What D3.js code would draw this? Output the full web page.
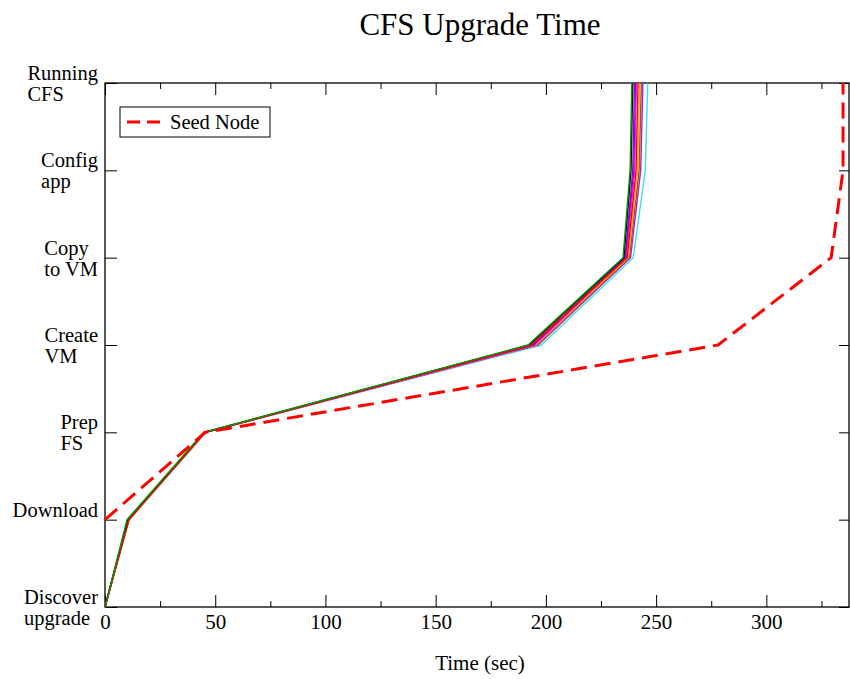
<!DOCTYPE html>
<html>
<head>
<meta charset="utf-8">
<script src="https://cdn.jsdelivr.net/npm/d3@7"></script>
<style>
  html, body { margin: 0; padding: 0; background: #fff; }
  svg { display: block; font-family: "Liberation Serif", "Times New Roman", serif; }
</style>
</head>
<body>
<svg id="chart" width="850" height="679"></svg>
<script>
// ---- data ----
const title = "CFS Upgrade Time";
const xLabel = "Time (sec)";
const stages = [["Discover", "upgrade"], ["Download"], ["Prep", "FS"], ["Create", "VM"], ["Copy", "to VM"], ["Config", "app"], ["Running", "CFS"]];
const xTicks = [0, 50, 100, 150, 200, 250, 300];
const xMinorTicks = [25, 75, 125, 175, 225, 275, 325];

// drawn in this order (last on top)
const nodeColors = ["#0000ff", "#40e0e0", "#a020f0", "#a0522d", "#ffa500", "#ff00ff", "#9400d3", "#000000", "#ff0000", "#009900"];
const node10 = [0, 10.7, 45.3, 193.8, 236.2, 240.0, 240.8];
const node9  = [0, 11.0, 45.9, 197.9, 239.6, 245.1, 246.2];
const node8  = [0, 10.6, 45.5, 196.4, 238.4, 243.0, 244.0];
const node7  = [0, 10.8, 45.6, 195.9, 237.9, 242.3, 243.3];
const node6  = [0, 10.7, 45.5, 195.4, 237.4, 241.6, 242.5];
const node4  = [0, 10.5, 45.3, 194.8, 236.4, 240.2, 241.0];
const node3  = [0, 10.6, 45.2, 194.3, 236.0, 239.4, 240.2];
const node2  = [0, 10.3, 45.0, 192.5, 235.4, 238.6, 239.4];
const node5  = [0, 10.9, 45.4, 193.3, 236.9, 240.9, 241.8];
const node1  = [0, 10.0, 44.8, 191.9, 235.0, 238.2, 239.0];
const nodes = [node10, node9, node8, node7, node6, node4, node3, node2, node5, node1];

const seedLabel = "Seed Node";
const seedStages = [1, 2, 3, 4, 5, 6];
const seedTimes  = [0, 45.4, 278.1, 329.4, 334.8, 334.8];

(function () {
// ---- layout ----
const svg = d3.select("#chart");
const pL = 105, pR = 849, pT = 83, pB = 607;
const x = d3.scaleLinear().domain([0, 337.5]).range([pL, pR]);
const y = d3.scaleLinear().domain([0, 6]).range([pB, pT]);

// title
svg.append("text").attr("x", 480).attr("y", 35).attr("text-anchor", "middle")
  .attr("font-size", 31).text(title);

// x label
svg.append("text").attr("x", 480).attr("y", 670).attr("text-anchor", "middle")
  .attr("font-size", 21).text(xLabel);

// axes: bottom
const gB = svg.append("g").attr("transform", `translate(0,${pB})`)
  .call(d3.axisBottom(x).tickValues(xTicks).tickSize(-12).tickPadding(7).tickFormat(d3.format("d")));
gB.select(".domain").remove();
gB.selectAll("text").attr("font-size", 21).attr("font-family", "Liberation Serif, serif").attr("fill", "#000");
const gBm = svg.append("g").attr("transform", `translate(0,${pB})`)
  .call(d3.axisBottom(x).tickValues(xMinorTicks).tickSize(-6).tickFormat(""));
gBm.select(".domain").remove();
// top
const gT = svg.append("g").attr("transform", `translate(0,${pT})`)
  .call(d3.axisTop(x).tickValues(xTicks).tickSize(-12).tickFormat(""));
gT.select(".domain").remove();
const gTm = svg.append("g").attr("transform", `translate(0,${pT})`)
  .call(d3.axisTop(x).tickValues(xMinorTicks).tickSize(-6).tickFormat(""));
gTm.select(".domain").remove();
// left / right ticks
const yIdx = d3.range(stages.length);
const gL = svg.append("g").attr("transform", `translate(${pL},0)`)
  .call(d3.axisLeft(y).tickValues(yIdx).tickSize(-12).tickFormat(""));
gL.select(".domain").remove();
const gR = svg.append("g").attr("transform", `translate(${pR},0)`)
  .call(d3.axisRight(y).tickValues(yIdx).tickSize(-10).tickFormat(""));
gR.select(".domain").remove();
svg.selectAll(".tick line").attr("stroke", "#000").attr("stroke-width", 1);

// y labels (multi-line, block right-aligned at x=98, lines left-aligned)
stages.forEach((lines, i) => {
  const t = svg.append("text").attr("font-size", 20.5);
  lines.forEach((ln, j) => {
    t.append("tspan").attr("y", y(i) - 3 + j * 21).text(ln);
  });
  let w = 0;
  t.selectAll("tspan").each(function () { w = Math.max(w, this.getComputedTextLength()); });
  t.selectAll("tspan").attr("x", 98 - w);
});

// plot frame
svg.append("rect").attr("x", pL).attr("y", pT).attr("width", pR - pL).attr("height", pB - pT)
  .attr("fill", "none").attr("stroke", "#000").attr("stroke-width", 1.3);

// series
const line = d3.line().x(d => x(d[0])).y(d => y(d[1]));
nodes.forEach((vals, k) => {
  svg.append("path").datum(vals.map((v, i) => [v, i]))
    .attr("d", line).attr("fill", "none").attr("stroke", nodeColors[k]).attr("stroke-width", 1.4);
});

// seed node
svg.append("path").datum(seedTimes.map((v, i) => [v, seedStages[i]]))
  .attr("d", line).attr("fill", "none").attr("stroke", "#ff0000").attr("stroke-width", 3)
  .attr("stroke-dasharray", "16,8");

// legend
const lg = svg.append("g");
lg.append("rect").attr("x", 120).attr("y", 107).attr("width", 150).attr("height", 30)
  .attr("fill", "#fff").attr("stroke", "#000").attr("stroke-width", 1);
lg.append("line").attr("x1", 127).attr("x2", 161).attr("y1", 122).attr("y2", 122)
  .attr("stroke", "#ff0000").attr("stroke-width", 3).attr("stroke-dasharray", "13,7");
lg.append("text").attr("x", 170).attr("y", 129).attr("font-size", 20.5).text(seedLabel);
})();
</script>
</body>
</html>
